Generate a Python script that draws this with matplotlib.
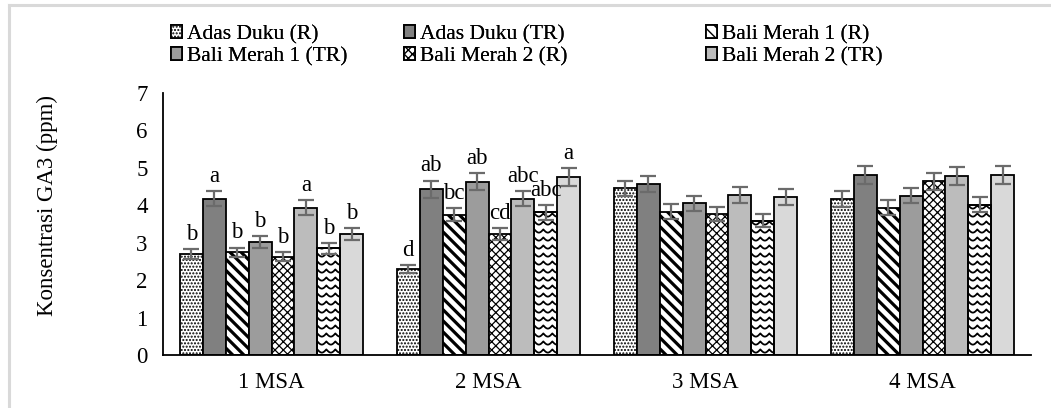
import numpy as np
import matplotlib as mpl
import matplotlib.pyplot as plt
from matplotlib.lines import Line2D
from matplotlib.font_manager import FontProperties

plt.rcParams['font.family'] = ['Liberation Serif', 'DejaVu Serif']

groups = ['1 MSA', '2 MSA', '3 MSA', '4 MSA']
series = ['Adas Duku (R)', 'Adas Duku (TR)', 'Bali Merah 1 (R)', 'Bali Merah 1 (TR)',
          'Bali Merah 2 (R)', 'Bali Merah 2 (TR)', 'Seri 7', 'Seri 8']

# mean GA3 per series, one value per MSA
means = [
    [2.70, 2.30, 4.45, 4.17],
    [4.18, 4.43, 4.57, 4.81],
    [2.74, 3.75, 3.83, 3.94],
    [3.02, 4.63, 4.05, 4.25],
    [2.63, 3.23, 3.77, 4.64],
    [3.93, 4.18, 4.27, 4.79],
    [2.85, 3.81, 3.59, 4.01],
    [3.22, 4.76, 4.22, 4.81],
]
errors = [
    [0.13, 0.11, 0.21, 0.21],
    [0.20, 0.23, 0.22, 0.24],
    [0.13, 0.17, 0.20, 0.19],
    [0.15, 0.23, 0.20, 0.20],
    [0.12, 0.15, 0.19, 0.22],
    [0.20, 0.21, 0.21, 0.24],
    [0.14, 0.20, 0.17, 0.20],
    [0.16, 0.24, 0.21, 0.24],
]
letters_1msa = ['b', 'a', 'b', 'b', 'b', 'a', 'b', 'b']
letters_2msa = ['d', 'ab', 'bc', 'ab', 'cd', 'abc', 'abc', 'a']

fills = ['white', '#808080', 'white', '#9c9c9c', 'white', '#bcbcbc', 'white', '#d9d9d9']
hatches = ['.....', None, '\\\\\\', None, 'xxxx', None, None, None]
hatch_lw = [1.0, 1.0, 2.3, 1.0, 0.9, 1.0, 1.0, 1.0]

FS = 16.5
legend_font = FontProperties(family=['Liberation Serif', 'DejaVu Serif'], size=15.5)

fig = plt.figure(figsize=(10.51, 4.08), dpi=100)
ax = fig.add_axes([163 / 1051, 1 - 355 / 408, 868 / 1051, 262 / 408])

# light frame of the chart area
fig.add_artist(Line2D([9 / 1051, 1], [1 - 5 / 408, 1 - 5 / 408], transform=fig.transFigure,
                      color='#d9d9d9', lw=2.2))
fig.add_artist(Line2D([9 / 1051, 9 / 1051], [0, 1 - 5 / 408], transform=fig.transFigure,
                      color='#d9d9d9', lw=2.2))

x = np.arange(len(groups))
w = 0.1056
handles = []
for i, name in enumerate(series):
    with mpl.rc_context({'hatch.linewidth': hatch_lw[i]}):
        bars = ax.bar(x + (i - 3.5) * w, means[i], w, color=fills[i], edgecolor='black',
                      linewidth=1.3, hatch=hatches[i], label=name, zorder=2)
    ax.errorbar(x + (i - 3.5) * w, means[i], yerr=errors[i], fmt='none', ecolor='#6b6b6b',
                elinewidth=1.6, capsize=6, capthick=1.6, zorder=4)
    handles.append(bars)

ax.set_xlim(-0.5, 3.5)
ax.set_ylim(0, 7)

# wavy fill for the seventh series
px_x = 868 / 4
px_y = 262 / 7
for patch in handles[6]:
    x0, w0, h0 = patch.get_x(), patch.get_width(), patch.get_height()
    xs = np.linspace(x0, x0 + w0, 80)
    period = 9 / px_x
    amp = 3.2 / px_y
    step = 8 / px_y
    for base in np.arange(step * 0.7, h0 + step, step):
        ys = base - amp * np.abs(np.sin(np.pi * (xs - x0) / period))
        ln = Line2D(xs, ys, color='black', lw=1.3, zorder=3)
        ax.add_line(ln)
        ln.set_clip_path(patch)
    ax.add_patch(plt.Rectangle((x0, 0), w0, h0, fill=False, edgecolor='black', lw=1.3, zorder=3))

# significance letters
for gi, labels in [(0, letters_1msa), (1, letters_2msa)]:
    for i, lab in enumerate(labels):
        ax.annotate(lab, (x[gi] + (i - 3.5) * w, means[i][gi] + errors[i][gi]),
                    xytext=(0, 3), textcoords='offset points', ha='center', va='bottom',
                    fontsize=FS)

ax.set_xticks(x)
ax.set_xticklabels(groups, fontsize=FS)
ax.set_yticks(range(8))
ax.tick_params(axis='y', length=0, pad=11, labelsize=FS)
ax.tick_params(axis='x', length=0, pad=12)
for s in ['top', 'right']:
    ax.spines[s].set_visible(False)
ax.spines['left'].set_linewidth(1.3)
ax.spines['bottom'].set_linewidth(1.3)

fig.text(47 / 1051, 1 - 206 / 408, 'Konsentrasi GA3 (ppm)', rotation=90, ha='center',
         va='center', fontsize=FS)

# legend in three columns, placed like the original
col_x = [171, 404, 706]
for c in range(3):
    hs = [handles[c], handles[c + 3]]
    leg = fig.legend(hs, [series[c], series[c + 3]], loc='upper left',
                     bbox_to_anchor=(col_x[c] / 1051, 1 - 25 / 408), frameon=False,
                     prop=legend_font, handlelength=0.5, handleheight=0.5, handletextpad=0.25,
                     labelspacing=0.12, borderpad=0, borderaxespad=0)
    fig.add_artist(leg)

fig.savefig('out.png', dpi=100)
